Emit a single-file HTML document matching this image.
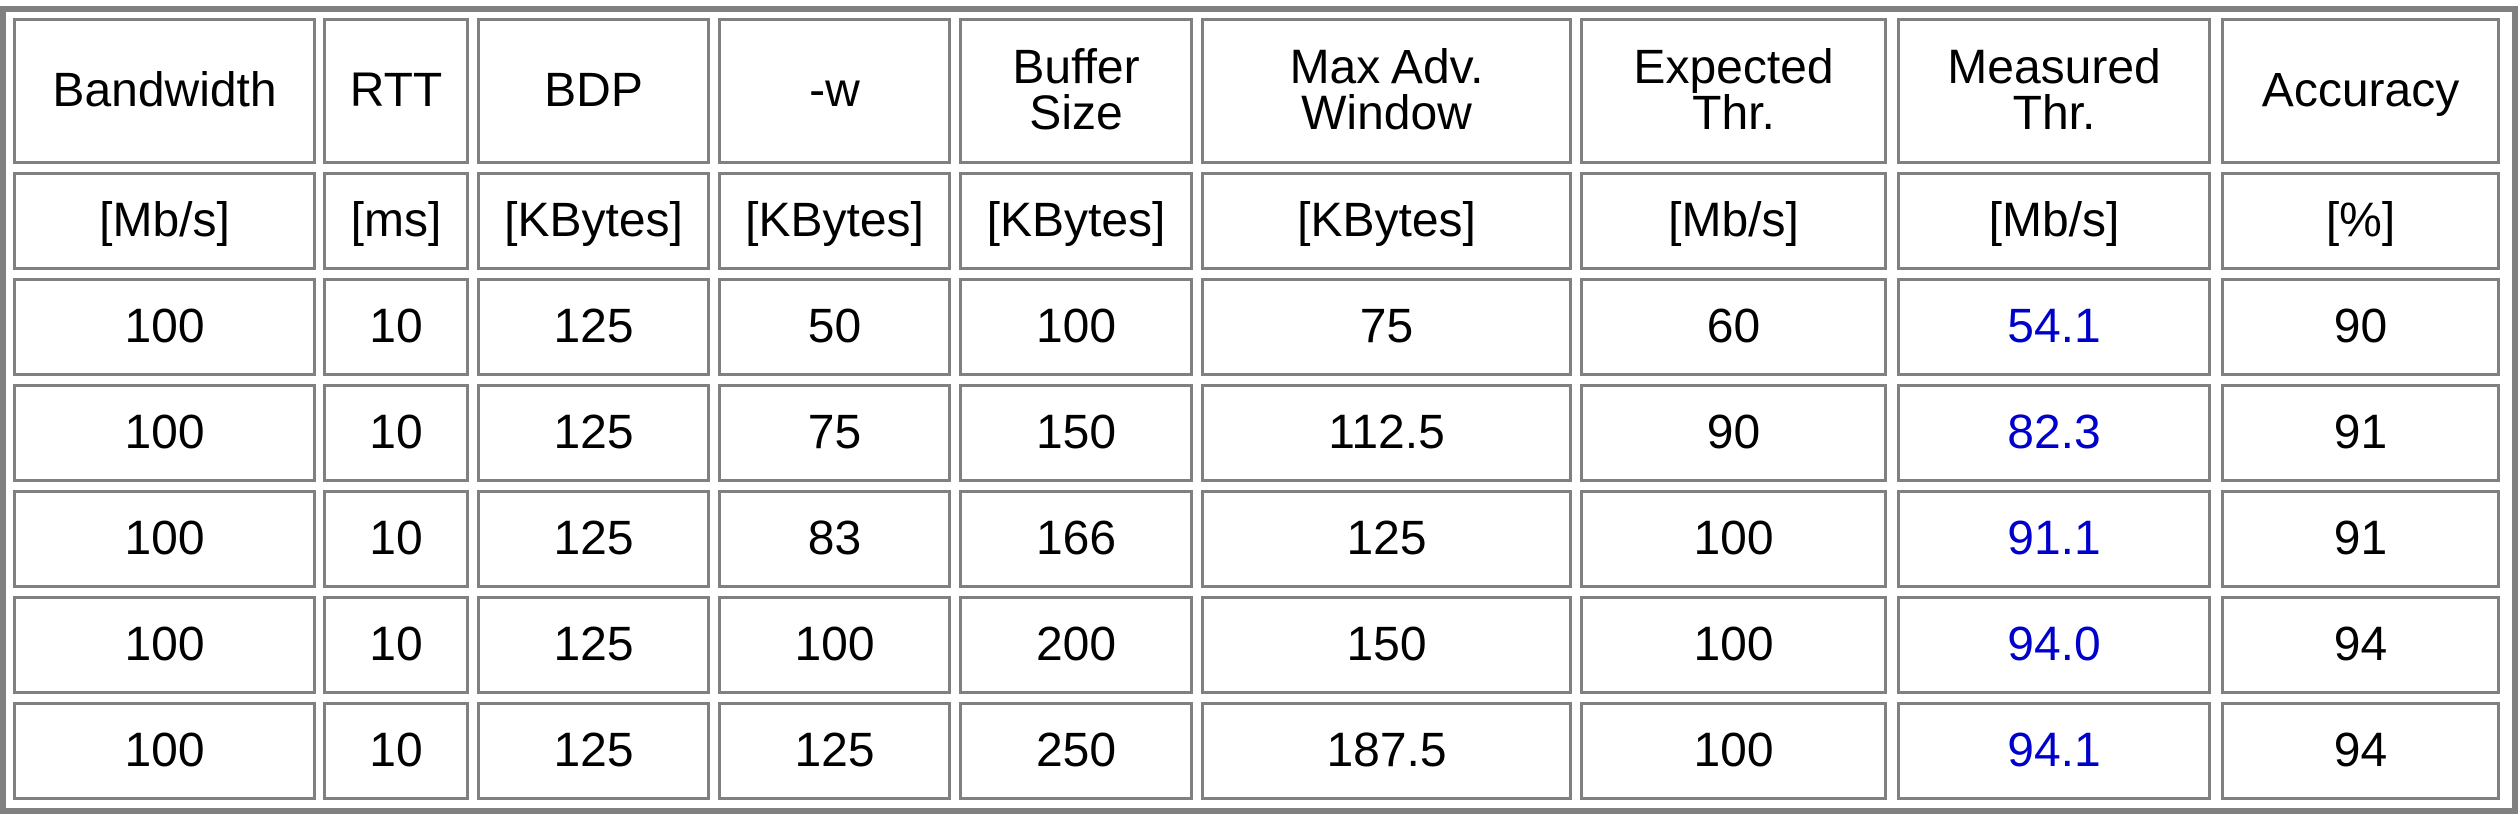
<!DOCTYPE html>
<html><head><meta charset="utf-8"><style>
html,body{margin:0;padding:0;background:#fff;}
#wrap{position:relative;width:2518px;height:814px;overflow:hidden;background:#fff;}
#outer{position:absolute;left:0;top:6px;width:2506px;height:796px;border:6px solid #808080;}
.cell{position:absolute;box-sizing:border-box;border:3px solid #808080;display:flex;align-items:center;justify-content:center;text-align:center;font-family:"Liberation Sans",sans-serif;font-size:48px;line-height:1.0;color:#000;background:#fff;}
.blue{color:#0000cc;}
</style></head><body>
<div id="wrap">
<div id="outer"></div>
</div>
<script>
const colX=[13,323,477,718,959,1201,1580,1897,2221];
const colW=[303,146,233,233,234,371,307,314,279];
const rowY=[18,172,278,384,490,596,702];
const rowH=[146,98,98,98,98,98,98];
const headers=["Bandwidth","RTT","BDP","-w","Buffer<br>Size","Max Adv.<br>Window","Expected<br>Thr.","Measured<br>Thr.","Accuracy"];
const units=["[Mb/s]","[ms]","[KBytes]","[KBytes]","[KBytes]","[KBytes]","[Mb/s]","[Mb/s]","[%]"];
const bandwidth=["100","100","100","100","100"];
const rtt=["10","10","10","10","10"];
const bdp=["125","125","125","125","125"];
const wopt=["50","75","83","100","125"];
const buffer=["100","150","166","200","250"];
const maxadv=["75","112.5","125","150","187.5"];
const expected=["60","90","100","100","100"];
const measured=["54.1","82.3","91.1","94.0","94.1"];
const accuracy=["90","91","91","94","94"];
const cols=[bandwidth,rtt,bdp,wopt,buffer,maxadv,expected,measured,accuracy];
const colNames=["bandwidth","rtt","bdp","w","buffer-size","max-adv-window","expected-thr","measured-thr","accuracy"];
const wrap=document.getElementById('wrap');
function mk(r,c,html,name){
  const d=document.createElement('div');
  d.className='cell'+(r>=2&&c===7?' blue':'');
  d.style.left=colX[c]+'px';d.style.top=rowY[r]+'px';
  d.style.width=colW[c]+'px';d.style.height=rowH[r]+'px';
  if(r===0) d.style.lineHeight='0.95';
  d.innerHTML=html;
  
  
  wrap.appendChild(d);
}
for(let c=0;c<9;c++){
  mk(0,c,headers[c],'header-'+colNames[c]);
  mk(1,c,units[c],'unit-'+colNames[c]);
  for(let r=0;r<5;r++) mk(r+2,c,cols[c][r],colNames[c]+'-row-'+(r+1));
}
</script>
</body></html>
